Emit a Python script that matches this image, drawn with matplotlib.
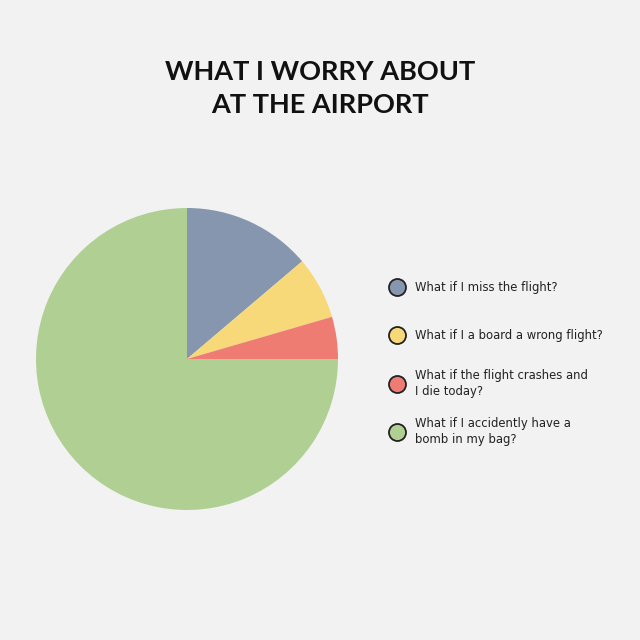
import matplotlib
matplotlib.use('Agg')
import matplotlib.pyplot as plt

# data
labels = ['What if I miss the flight?',
          'What if I a board a wrong flight?',
          'What if the flight crashes and\nI die today?',
          'What if I accidently have a\nbomb in my bag?']
shares = [13.8, 6.7, 4.5, 75.0]
colors = ['#8596ae', '#f7d97a', '#ee7c72', '#b0d093']

BG = '#f2f2f2'

fig = plt.figure(figsize=(6.4, 6.4), dpi=100, facecolor=BG)

# title
fig.text(0.5, 0.862, 'WHAT I WORRY ABOUT\nAT THE AIRPORT', ha='center', va='center',
         fontsize=19.5, fontweight='bold', family='Lato', color='#111111',
         linespacing=1.42)

# pie
ax = fig.add_axes([36 / 640, 130 / 640, 302 / 640, 302 / 640])
ax.set_facecolor(BG)
ax.pie(shares, colors=colors, startangle=90, counterclock=False, radius=1.0,
       wedgeprops={'linewidth': 0})
ax.set_xlim(-1, 1)
ax.set_ylim(-1, 1)
ax.set_aspect('equal')
ax.axis('off')

# legend drawn by hand so the rows sit where they do in the picture
lax = fig.add_axes([0, 0, 1, 1], facecolor='none')
lax.set_xlim(0, 640)
lax.set_ylim(640, 0)
lax.axis('off')
row_y = [287, 335, 384, 432]
for lab, col, y in zip(labels, colors, row_y):
    lax.scatter([397], [y], s=150, color=col, edgecolors='#222222', linewidths=1.3, zorder=3)
    lax.text(415, y, lab, ha='left', va='center', fontsize=8.4, color='#222222',
             family='DejaVu Sans', linespacing=1.3)

fig.savefig('out.png', dpi=100, facecolor=BG)
